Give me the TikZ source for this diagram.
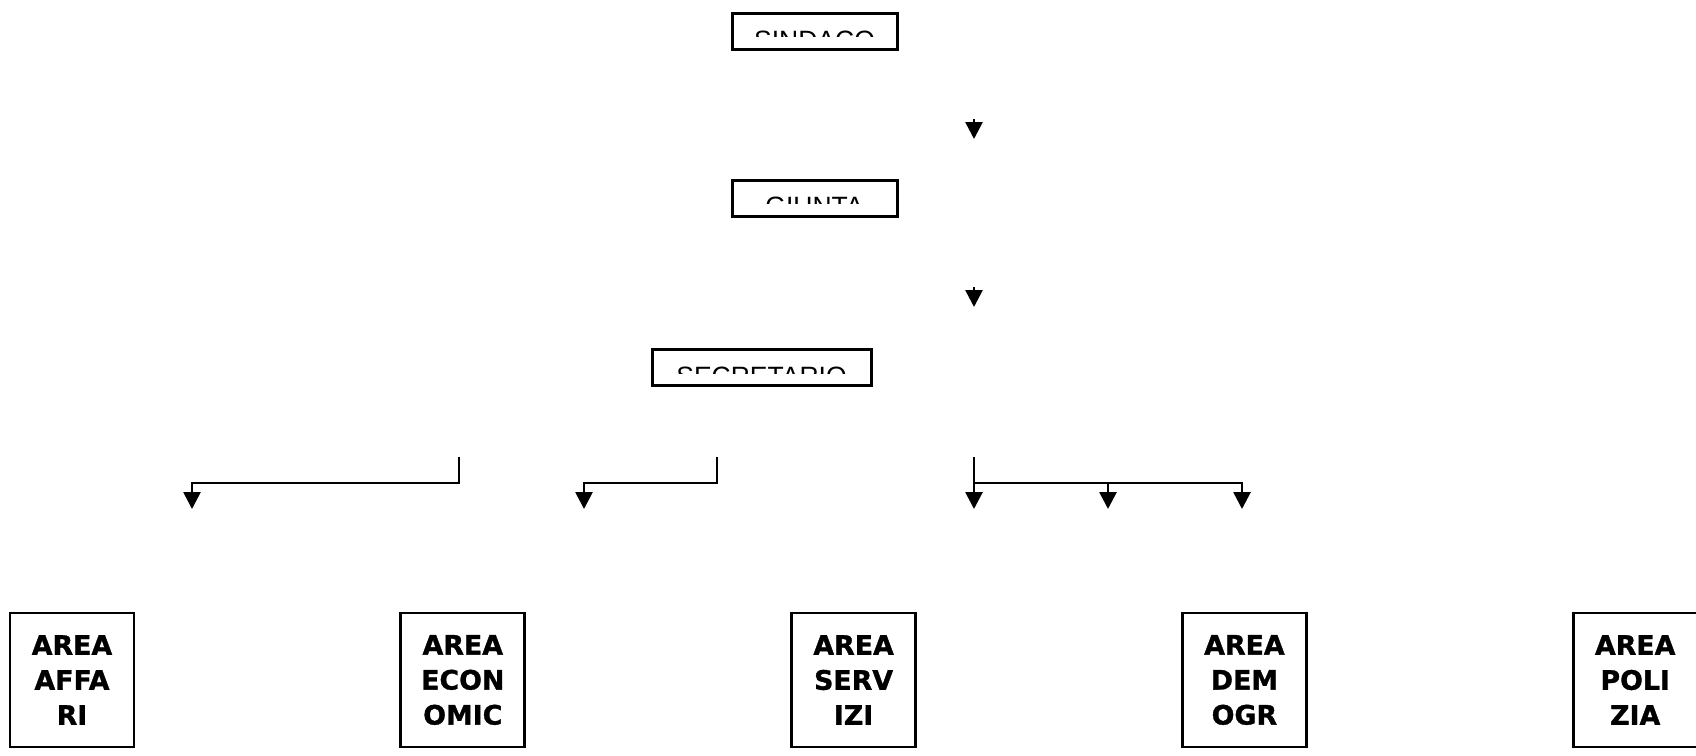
\documentclass[tikz,border=0pt]{standalone}
\usepackage{fontspec}
\setmainfont{Liberation Sans}
\newfontfamily\areafont[BoldFeatures={FakeBold=1.2}]{DejaVu Sans}
\usetikzlibrary{positioning, arrows.meta}

\begin{document}
\begin{tikzpicture}[
        x=0.5pt, y=-0.5pt,
        >={Triangle[length=8.5pt, width=8.5pt]},
        % Horizontal gap between the area boxes
        node distance=0pt and 132pt
    ]
        % Define node styles
        \tikzstyle{topbox}=[
            draw,
            line width=1.5pt,
            minimum height=18pt,
            inner sep=0pt
        ]
        \tikzstyle{toplabel}=[
            inner sep=0pt,
            font=\fontsize{13.25pt}{15pt}\selectfont
        ]
        \tikzstyle{areabox}=[
            draw,
            line width=1.4pt,
            minimum width=62pt,
            minimum height=67pt,
            inner sep=0pt,
            align=center,
            font=\areafont\fontsize{13.4pt}{17.5pt}\selectfont\bfseries
        ]
        \tikzstyle{flowarrow}=[->, line width=1.35pt]

        \useasboundingbox (0,0) rectangle (1696,755);

        % --- Top column ---
        \node[topbox, minimum width=82.5pt] (sindaco) at (814.5,31) {};
        \node[topbox, minimum width=82.5pt] (giunta) at (814.5,198) {};
        \node[topbox, minimum width=109.5pt] (secretario) at (761.5,367.5) {};

        % Titles only show their upper part
        \begin{scope}
            \clip (sindaco.north west) rectangle ([yshift=-12.25pt]sindaco.north east);
            \node[toplabel, anchor=base] (sindacotext) at ([yshift=-19pt]sindaco.north) {SINDACO};
        \end{scope}
        \begin{scope}
            \clip (giunta.north west) rectangle ([yshift=-12.5pt]giunta.north east);
            \node[toplabel, anchor=base] (giuntatext) at ([yshift=-18.5pt]giunta.north) {GIUNTA};
        \end{scope}
        \begin{scope}
            \clip (secretario.north west) rectangle ([yshift=-12.5pt]secretario.north east);
            \node[toplabel, anchor=base] (secretariotext) at ([yshift=-18.5pt]secretario.north) {SECRETARIO};
        \end{scope}

        % --- Loose arrows beside the column ---
        \coordinate (sindacoarrow) at (974,119);
        \coordinate (giuntatip) at (974,139);
        \coordinate (giuntaarrow) at (974,287);
        \coordinate (secretariotip) at (974,307);
        \draw[flowarrow] (sindacoarrow) -- (giuntatip);
        \draw[flowarrow] (giuntaarrow) -- (secretariotip);

        % --- Branches towards the areas ---
        \coordinate (legone) at (459,457);
        \coordinate (legtwo) at (717,457);
        \coordinate (legthree) at (974,457);
        \coordinate (tipaffari) at (192,509);
        \coordinate (tipeconomic) at (584,509);
        \coordinate (tipservizi) at (974,509);
        \coordinate (tipdemogr) at (1108,509);
        \coordinate (tippolizia) at (1242,509);

        \draw[flowarrow] (legone) -- ++(0,26) -| (tipaffari);
        \draw[flowarrow] (legtwo) -- ++(0,26) -| (tipeconomic);
        \draw[flowarrow] (legthree) -- (tipservizi);
        \draw[flowarrow] (legthree) ++(0,26) -| (tipdemogr);
        \draw[flowarrow] (legthree) ++(0,26) -| (tippolizia);

        % --- Bottom row ---
        \node[areabox] (affari) at (72,680) {AREA\\AFFA\\RI};
        \node[areabox, right=of affari] (economic) {AREA\\ECON\\OMIC};
        \node[areabox, right=of economic] (servizi) {AREA\\SERV\\IZI};
        \node[areabox, right=of servizi] (demogr) {AREA\\DEM\\OGR};
        \node[areabox, right=of demogr] (polizia) {AREA\\POLI\\ZIA};

    \end{tikzpicture}
\end{document}
